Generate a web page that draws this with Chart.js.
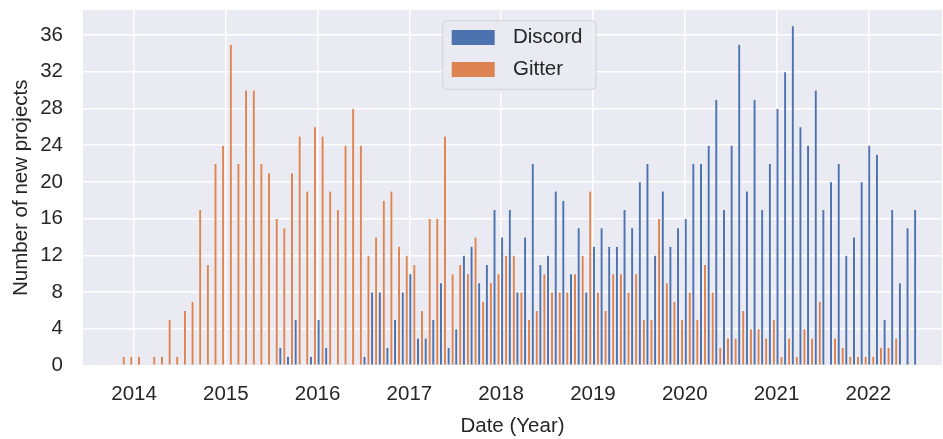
<!DOCTYPE html>
<html>
<head>
<meta charset="utf-8">
<script src="https://cdn.jsdelivr.net/npm/chart.js@4/dist/chart.umd.min.js"></script>
<style>
  html, body { margin: 0; padding: 0; background: #ffffff; }
  #wrap { width: 943px; height: 439px; position: relative; }
</style>
</head>
<body>
<div id="wrap"><canvas id="c" width="943" height="439"></canvas></div>
<script>
// ---------- DATA ----------
const months = [
  '2013-11','2013-12',
  '2014-01','2014-02','2014-03','2014-04','2014-05','2014-06','2014-07','2014-08','2014-09','2014-10','2014-11','2014-12',
  '2015-01','2015-02','2015-03','2015-04','2015-05','2015-06','2015-07','2015-08','2015-09','2015-10','2015-11','2015-12',
  '2016-01','2016-02','2016-03','2016-04','2016-05','2016-06','2016-07','2016-08','2016-09','2016-10','2016-11','2016-12',
  '2017-01','2017-02','2017-03','2017-04','2017-05','2017-06','2017-07','2017-08','2017-09','2017-10','2017-11','2017-12',
  '2018-01','2018-02','2018-03','2018-04','2018-05','2018-06','2018-07','2018-08','2018-09','2018-10','2018-11','2018-12',
  '2019-01','2019-02','2019-03','2019-04','2019-05','2019-06','2019-07','2019-08','2019-09','2019-10','2019-11','2019-12',
  '2020-01','2020-02','2020-03','2020-04','2020-05','2020-06','2020-07','2020-08','2020-09','2020-10','2020-11','2020-12',
  '2021-01','2021-02','2021-03','2021-04','2021-05','2021-06','2021-07','2021-08','2021-09','2021-10','2021-11','2021-12',
  '2022-01','2022-02','2022-03','2022-04','2022-05','2022-06','2022-07'
];

const discord = [
  0,0,
  0,0,0,0,0,0,0,0,0,0,0,0,
  0,0,0,0,0,0,0,2,1,5,0,1,
  5,2,0,0,0,0,1,8,8,2,5,8,
  10,3,3,5,9,2,4,12,13,9,11,17,
  14,17,8,14,22,11,12,19,18,10,15,8,
  13,15,13,13,17,15,20,22,12,19,13,15,
  16,22,22,24,29,17,24,35,19,29,17,22,
  28,32,37,26,24,30,17,20,22,12,14,20,
  24,23,5,17,9,15,17
];

const gitter = [
  1,1,
  1,0,1,1,5,1,6,7,17,11,22,24,
  35,22,30,30,22,21,16,15,21,25,19,26,
  25,19,17,24,28,24,12,14,18,19,13,12,
  11,6,16,16,25,10,11,10,14,7,9,10,
  12,12,8,5,6,10,8,8,8,10,12,19,
  8,6,10,10,8,10,5,5,16,9,7,5,
  8,5,11,8,2,3,3,6,4,4,3,5,
  1,3,1,4,3,7,0,3,2,1,1,1,
  1,2,2,3,0,0,0
];

const seriesNames = ['Discord', 'Gitter'];
const yearTicks = [2014, 2015, 2016, 2017, 2018, 2019, 2020, 2021, 2022];
const yTicks = [0, 4, 8, 12, 16, 20, 24, 28, 32, 36];
const xTitle = 'Date (Year)';
const yTitle = 'Number of new projects';

// ---------- STYLE ----------
const COLORS = ['#4C72B0', '#DD8452'];
const TEXT = '#262626';
const FONT = "'Liberation Sans', Arial, Helvetica, sans-serif";
const FS = 20.5;
const PAIR_OFFSET = 0.39; // month fraction of the bar-pair centre after the 1st of the month

function monthToX(s) {
  const parts = s.split('-').map(Number);
  return parts[0] + (parts[1] - 1 + PAIR_OFFSET) / 12;
}
const xs = months.map(monthToX);

Chart.defaults.font.family = FONT;
Chart.defaults.font.size = FS;
Chart.defaults.color = TEXT;

const plotBg = {
  id: 'plotBg',
  beforeDraw(chart) {
    const { ctx, chartArea: a } = chart;
    ctx.save();
    ctx.fillStyle = '#EAEAF2';
    ctx.fillRect(a.left, a.top, a.right - a.left, a.bottom - a.top);
    ctx.restore();
  }
};

function roundRectPath(ctx, x, y, w, h, r) {
  ctx.beginPath();
  ctx.moveTo(x + r, y);
  ctx.lineTo(x + w - r, y);
  ctx.arcTo(x + w, y, x + w, y + r, r);
  ctx.lineTo(x + w, y + h - r);
  ctx.arcTo(x + w, y + h, x + w - r, y + h, r);
  ctx.lineTo(x + r, y + h);
  ctx.arcTo(x, y + h, x, y + h - r, r);
  ctx.lineTo(x, y + r);
  ctx.arcTo(x, y, x + r, y, r);
  ctx.closePath();
}

const FRAME = { x: 442.7, y: 20.7, w: 153.3, h: 68.6, r: 4 };

const legendInside = {
  id: 'legendInside',
  afterInit(chart) {
    const lg = chart.legend;
    const fit = lg.fit;
    lg.fit = function () {
      fit.call(this);
      this.width = 0;
      this.height = 0;
    };
    const draw = lg.draw;
    lg.draw = function (area) {
      const ctx = this.ctx;
      ctx.save();
      roundRectPath(ctx, FRAME.x, FRAME.y, FRAME.w, FRAME.h, FRAME.r);
      ctx.fillStyle = 'rgba(234,234,242,0.8)';
      ctx.fill();
      ctx.restore();
      draw.call(this, area);
      ctx.save();
      roundRectPath(ctx, FRAME.x, FRAME.y, FRAME.w, FRAME.h, FRAME.r);
      ctx.lineWidth = 1;
      ctx.strokeStyle = 'rgba(204,204,204,0.8)';
      ctx.stroke();
      ctx.restore();
    };
  },
  afterLayout(chart) {
    const lg = chart.legend;
    lg.left = FRAME.x;
    lg.top = 21;
    lg.width = 300;
    lg.height = 200;
    lg.right = lg.left + 300;
    lg.bottom = lg.top + 200;
  }
};

new Chart(document.getElementById('c'), {
  type: 'bar',
  data: {
    datasets: [
      {
        label: seriesNames[0],
        data: xs.map((x, i) => ({ x: x, y: discord[i] })),
        backgroundColor: COLORS[0],
        borderColor: '#ffffff',
        borderWidth: 0.5,
        borderSkipped: 'start'
      },
      {
        label: seriesNames[1],
        data: xs.map((x, i) => ({ x: x, y: gitter[i] })),
        backgroundColor: COLORS[1],
        borderColor: '#ffffff',
        borderWidth: 0.5,
        borderSkipped: 'start'
      }
    ]
  },
  options: {
    responsive: false,
    animation: false,
    devicePixelRatio: 1,
    categoryPercentage: 1.046,
    barPercentage: 0.75,
    layout: { padding: { left: 4, top: 10, right: 1, bottom: 0 } },
    plugins: {
      tooltip: { enabled: false },
      legend: {
        display: true,
        position: 'right',
        align: 'start',
        labels: {
          color: TEXT,
          font: { family: FONT, size: FS },
          boxWidth: 59,
          boxHeight: 31,
          padding: 1,
          generateLabels(chart) {
            const items = Chart.defaults.plugins.legend.labels.generateLabels(chart);
            items.forEach(it => { it.strokeStyle = '#EAEAF2'; it.lineWidth = 16; });
            return items;
          }
        }
      }
    },
    scales: {
      x: {
        type: 'linear',
        min: 2013.444,
        max: 2022.803,
        offset: false,
        afterBuildTicks(s) { s.ticks = yearTicks.map(v => ({ value: v })); },
        afterFit(s) { s.height = 73.5; s.paddingLeft = 0; s.paddingRight = 0; },
        ticks: {
          padding: 17,
          autoSkip: false,
          maxRotation: 0,
          color: TEXT,
          font: { family: FONT, size: FS },
          callback: (v) => String(Math.round(v))
        },
        grid: { color: '#ffffff', lineWidth: 1.4, drawTicks: false, offset: false },
        border: { display: false },
        title: {
          display: true,
          text: xTitle,
          color: TEXT,
          font: { family: FONT, size: FS },
          padding: { top: 0, bottom: 0 }
        }
      },
      y: {
        min: 0,
        max: 38.72,
        afterBuildTicks(s) { s.ticks = yTicks.map(v => ({ value: v })); },
        afterFit(s) { s.width = 79; s.paddingTop = 0; s.paddingBottom = 0; },
        ticks: {
          padding: 20,
          color: TEXT,
          font: { family: FONT, size: FS },
          callback: (v) => String(v)
        },
        grid: { color: '#ffffff', lineWidth: 1.4, drawTicks: false },
        border: { display: false },
        title: {
          display: true,
          text: yTitle,
          color: TEXT,
          font: { family: FONT, size: FS },
          padding: { top: 5, bottom: 0 }
        }
      }
    }
  },
  plugins: [plotBg, legendInside]
});
</script>
</body>
</html>
